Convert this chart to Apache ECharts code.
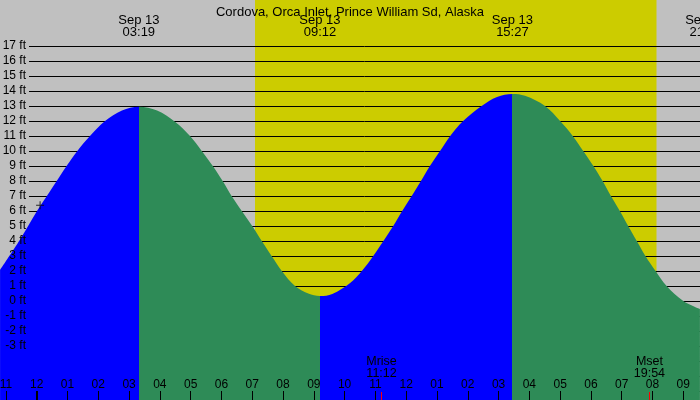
<!DOCTYPE html>
<html><head><meta charset="utf-8">
<script src="https://cdn.jsdelivr.net/npm/echarts@6/dist/echarts.min.js"></script>
<style>html,body{margin:0;padding:0;background:#c0c0c0}#c{width:700px;height:400px}</style>
</head><body><div id="c"></div>
<script>
const chartTitle = 'Cordova, Orca Inlet, Prince William Sd, Alaska';
// hours after Sep 13 00:00, heights in ft (flood, ebb, flood, ebb)
const flood1Hours = [-1.19, -0.54, 0.01, 0.33, 0.65, 0.97, 1.32, 1.73, 2.22, 2.77];
const flood1Feet  = [2.07, 4.1, 6.0, 7.0, 8.0, 9.0, 10.0, 11.0, 12.0, 12.7];
const ebb1Hours = [3.317, 3.91, 4.49, 4.98, 5.36, 5.72, 6.04, 6.33, 6.66, 7.00, 7.31, 7.63, 7.96, 8.39, 8.82];
const ebb1Feet  = [12.95, 12.7, 11.95, 11.0, 10.0, 9.0, 8.0, 7.0, 6.0, 5.0, 4.0, 3.0, 2.0, 1.0, 0.5];
const flood2Hours = [9.20, 9.60, 10.18, 10.56, 10.93, 11.26, 11.58, 11.87, 12.18, 12.48, 12.77, 13.10, 13.43, 13.85, 14.45, 14.95];
const flood2Feet  = [0.33, 0.47, 1.2, 2.0, 3.0, 4.0, 5.0, 6.0, 7.0, 8.0, 9.0, 10.0, 11.0, 12.0, 13.0, 13.6];
const ebb2Hours = [15.45, 15.86, 16.51, 17.0, 17.41, 17.75, 18.08, 18.38, 18.65, 18.94, 19.21, 19.49, 19.77, 20.10, 20.46, 21.0, 21.54];
const ebb2Feet  = [13.8, 13.68, 13.0, 12.0, 11.0, 10.0, 9.0, 8.0, 7.0, 6.0, 5.0, 4.0, 3.0, 2.0, 1.0, 0.0, -0.53];

const extremeHours = [3.317, 9.2, 15.45, 21.73];
const extremeDates = ['Sep 13', 'Sep 13', 'Sep 13', 'Sep 13'];
const extremeTimes = ['03:19', '09:12', '15:27', '21:44'];

const sunHours = [7.09, 20.13];
const moonHours = [11.2, 19.9];
const moonLabels = ['Mrise\n11:12', 'Mset\n19:54'];

const hourTicks = [-1,0,1,2,3,4,5,6,7,8,9,10,11,12,13,14,15,16,17,18,19,20,21];
const hourLabels = ['11','12','01','02','03','04','05','06','07','08','09','10','11','12','01','02','03','04','05','06','07','08','09'];
const midnightTicks = [0];
const feetTicks = [-3,-2,-1,0,1,2,3,4,5,6,7,8,9,10,11,12,13,14,15,16,17];

const markerHours = [0.11];
const markerFeet = [6.38];

const FLOOD = '#0000ff', EBB = '#2e8b57';
const pair = (h, f) => h.map((x, i) => [x, f[i]]);
const tideData = [].concat(pair(flood1Hours, flood1Feet), pair(ebb1Hours, ebb1Feet),
                           pair(flood2Hours, flood2Feet), pair(ebb2Hours, ebb2Feet));
const FONT = 'Liberation Sans';
const X_MIN = -1.192, X_MAX = 22.517;

const baseX = { type: 'value', gridIndex: 0, min: X_MIN, max: X_MAX, z: 5,
  axisLine: { show: false, onZero: false }, splitLine: { show: false } };

const chart = echarts.init(document.getElementById('c'), null, { renderer: 'canvas' });
chart.setOption({
  animation: false,
  backgroundColor: '#c0c0c0',
  title: { text: chartTitle, left: 'center', top: 1,
    textStyle: { fontFamily: FONT, fontSize: 13, fontWeight: 'normal', color: '#000' } },
  grid: [
    { left: 0, right: -30, top: 0, bottom: 0, outerBoundsMode: 'none', containLabel: false },
    { left: 29, right: 0, top: 46, bottom: 9, outerBoundsMode: 'none', containLabel: false }
  ],
  visualMap: {
    type: 'piecewise', show: false, dimension: 0, seriesIndex: 1,
    pieces: [
      { lt: extremeHours[0], color: FLOOD },
      { gte: extremeHours[0], lt: extremeHours[1], color: EBB },
      { gte: extremeHours[1], lt: extremeHours[2], color: FLOOD },
      { gte: extremeHours[2], color: EBB }
    ]
  },
  xAxis: [
    Object.assign({}, baseX, { position: 'bottom',
      axisTick: { show: true, inside: true, length: 9, customValues: hourTicks, lineStyle: { color: '#000', width: 1 } },
      axisLabel: { show: true, inside: true, margin: 9, customValues: hourTicks,
        formatter: v => hourLabels[hourTicks.indexOf(Math.round(v))],
        fontFamily: FONT, fontSize: 12, lineHeight: 12, color: '#000' } }),
    Object.assign({}, baseX, { position: 'bottom',
      axisTick: { show: true, inside: true, length: 9, customValues: midnightTicks, lineStyle: { color: '#000', width: 2 } },
      axisLabel: { show: false } }),
    Object.assign({}, baseX, { position: 'bottom',
      axisTick: { show: true, inside: true, length: 8, customValues: moonHours, lineStyle: { color: '#ff0000', width: 1 } },
      axisLabel: { show: true, inside: true, margin: 20, customValues: moonHours,
        formatter: v => moonLabels[moonHours.indexOf(v)],
        fontFamily: FONT, fontSize: 12.5, lineHeight: 12, color: '#000' } }),
    Object.assign({}, baseX, { position: 'top',
      axisTick: { show: false },
      axisLabel: { show: true, inside: true, margin: 14, customValues: extremeHours,
        formatter: v => { const i = extremeHours.indexOf(v); return extremeDates[i] + '\n' + extremeTimes[i]; },
        fontFamily: FONT, fontSize: 13, lineHeight: 12, color: '#000' } }),
    { type: 'value', gridIndex: 1, min: 0, max: 1, show: false, axisLine: { onZero: false } }
  ],
  yAxis: [
    { type: 'value', gridIndex: 0, min: -6.6, max: 20.067, show: false, axisLine: { onZero: false } },
    { type: 'value', gridIndex: 1, min: -6, max: 17, interval: 1, z: 1, position: 'left',
      axisLine: { show: false, onZero: false }, axisTick: { show: false }, axisLabel: { show: false },
      splitLine: { show: true, lineStyle: { color: '#000', width: 1 } } },
    { type: 'value', gridIndex: 1, min: -6, max: 17, interval: 1, z: 5, position: 'left',
      axisLine: { show: false, onZero: false }, axisTick: { show: false }, splitLine: { show: false },
      axisLabel: { show: true, margin: 3, customValues: feetTicks, formatter: v => v + ' ft',
        fontFamily: FONT, fontSize: 12, color: '#000' } }
  ],
  series: [
    { type: 'custom', xAxisIndex: 0, yAxisIndex: 0, z: 0, silent: true, clip: false,
      data: [[sunHours[0], sunHours[1]]], encode: { x: [0, 1] },
      renderItem: (params, api) => {
        const a = api.coord([api.value(0), 0]);
        const b = api.coord([api.value(1), 0]);
        const cs = params.coordSys;
        return { type: 'rect', shape: { x: a[0], y: cs.y, width: b[0] - a[0], height: cs.height },
          style: { fill: '#cccc00' } };
      } },
    { type: 'line', xAxisIndex: 0, yAxisIndex: 0, z: 2,
      data: tideData, smooth: 0.35,
      showSymbol: false, symbol: 'none', silent: true,
      lineStyle: { width: 0, opacity: 0 },
      areaStyle: { opacity: 1, origin: 'start' } },
    { type: 'scatter', xAxisIndex: 0, yAxisIndex: 0, z: 6, silent: true,
      data: pair(markerHours, markerFeet),
      symbol: 'path://M0,3.5h8v1h-8z M3.5,0h1v8h-1z', symbolSize: 8,
      itemStyle: { color: '#000' } }
  ]
});
</script></body></html>
